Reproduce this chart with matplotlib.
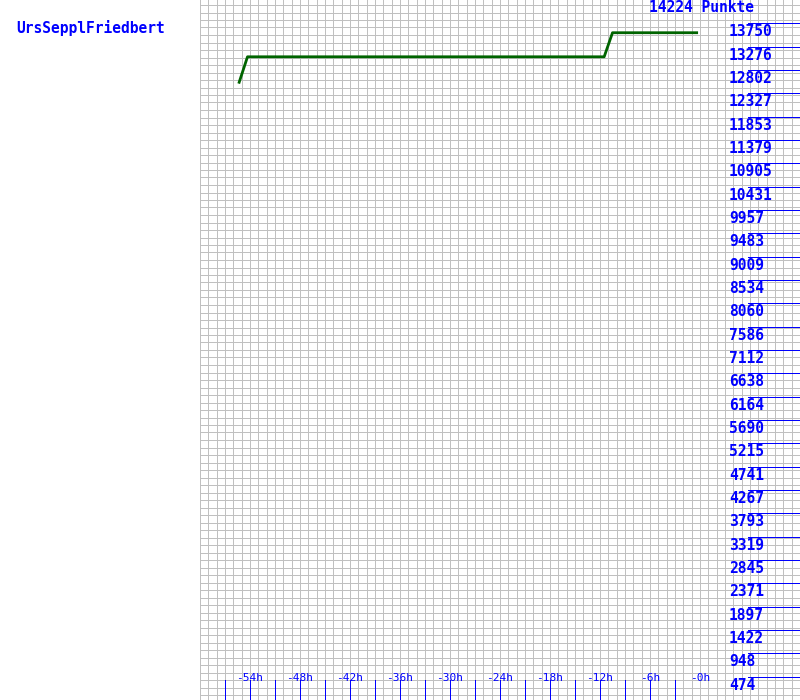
import numpy as np
import matplotlib
matplotlib.use("Agg")
import matplotlib.pyplot as plt

player = "UrsSepplFriedbert"
max_points = 14224

# score history (hours before now, points)
hours = [-55.3, -54.3, -11.5, -10.5, -0.4]
points = [12552, 13070, 13070, 13559, 13559]

# y labels: 1/30 steps of the max
y_ticks = [max_points * k / 30 for k in range(1, 30)]
y_labels = [str(int(round(v))) for v in y_ticks]

x_label_hours = list(range(-54, 1, 6))
x_tick_hours = list(range(-57, -2, 3))

blue = "#0000ff"
grey = "#c0c0c0"
font = "DejaVu Sans Mono"

# scale: 1 h = 25/3 px, full height = max_points
px_h = 3 / 25
px_v = max_points / 700

fg = plt.figure(figsize=(8, 7), dpi=100)
ax = fg.add_axes([0, 0, 1, 1])
ax.set_xlim(-84, 12)
ax.set_ylim(0, max_points)
ax.axis("off")

# grid
ax.vlines(np.arange(-60, 12.01, 1), 0, max_points, color=grey, lw=0.72, antialiased=False)
ax.hlines([(700 - (5 + 7.5 * k)) * px_v for k in range(93)], -60, 12,
          color=grey, lw=0.72, antialiased=False)

# right-hand scale
ax.hlines(y_ticks, 48 * px_h, 12, color=blue, lw=0.72, antialiased=False)
for v, s in zip(y_ticks, y_labels):
    ax.text(29 * px_h, v - 8.5 * px_v, s, color=blue, family=font, fontsize=10.5,
            fontweight="bold", ha="left", va="center")

# bottom ticks
ax.vlines(x_tick_hours, 0, 20 * px_v, color=blue, lw=0.72, antialiased=False)
for h in x_label_hours:
    ax.text(h, 22 * px_v, f"-{abs(h)}h", color=blue, family=font, fontsize=8,
            ha="center", va="center")

ax.plot(hours, points, color="#006400", lw=2)

ax.text(-82, max_points - 28 * px_v, player, color=blue, family=font, fontsize=10.5,
        fontweight="bold", ha="left", va="center")
ax.text(-6.1, max_points - 7 * px_v, f"{max_points} Punkte", color=blue, family=font,
        fontsize=10.5, fontweight="bold", ha="left", va="center")

fg.savefig("out.png", dpi=100)
